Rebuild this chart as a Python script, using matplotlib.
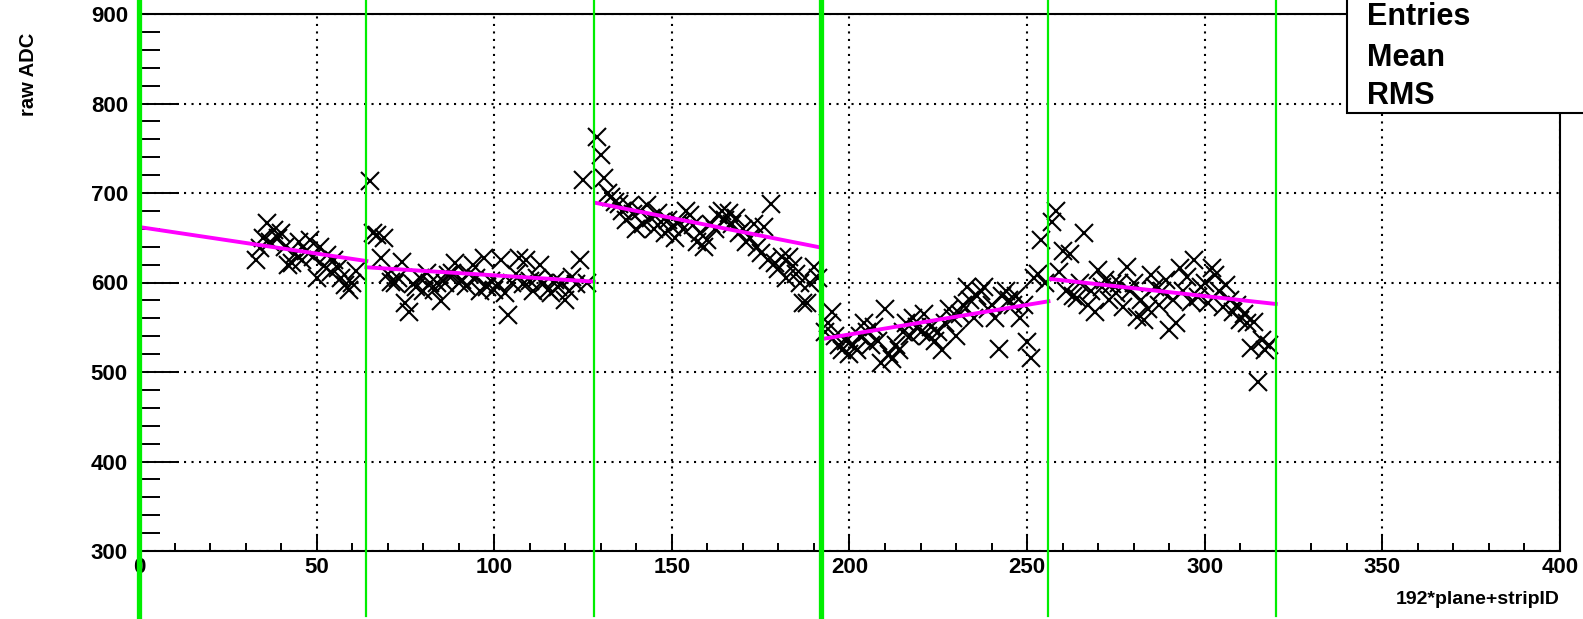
import numpy as np
import matplotlib
matplotlib.use("Agg")
import matplotlib.pyplot as plt
from matplotlib.patches import Rectangle
from matplotlib.ticker import MultipleLocator

plt.rcParams["font.family"] = ["Liberation Sans", "DejaVu Sans"]
plt.rcParams["font.weight"] = "bold"

# raw ADC per strip, one list per plane (first strip id given separately)
seg1_start = 33
seg1_adc = [625, 638, 650, 666, 645, 659, 650, 655, 640, 620, 622, 632, 645, 625, 635,
            647, 628, 605, 640, 618, 631, 612, 625, 616, 605, 597, 592, 599, 613]
seg2_start = 65
seg2_adc = [713, 655, 653, 627, 650, 610, 601, 599, 605, 623, 577, 567, 598, 595, 605,
            590, 611, 600, 592, 599, 579, 600, 608, 611, 622, 600, 603, 596, 610, 620,
            605, 590, 627, 595, 602, 592, 598, 625, 588, 564, 600, 610, 627, 598, 625,
            602, 590, 605, 620, 600, 592, 588, 603, 595, 599, 580, 590, 606, 598, 625,
            714, 600]
seg3_start = 129
seg3_adc = [763, 742, 717, 700, 695, 690, 688, 680, 670, 685, 676, 660, 680, 665, 687,
            672, 660, 678, 668, 655, 670, 662, 650, 668, 660, 680, 675, 664, 645, 655,
            640, 648, 665, 660, 675, 680, 670, 678, 665, 672, 655, 660, 645, 650, 665,
            640, 633, 662, 625, 688, 622, 615, 628, 605, 629, 618, 610, 600, 577, 577,
            599, 617, 605]
seg4_start = 193
seg4_adc = [545, 555, 567, 540, 530, 525, 535, 520, 530, 525, 540, 555, 545, 530, 550,
            535, 510, 570, 520, 515, 530, 525, 545, 555, 540, 560, 550, 545, 565, 540,
            550, 535, 545, 525, 555, 570, 560, 540, 565, 575, 595, 580, 560, 585, 590,
            595, 570, 575, 560, 526, 585, 590, 580, 575, 585, 560, 575, 533, 516, 605,
            610, 647, 600]
seg5_start = 257
seg5_adc = [668, 680, 612, 635, 590, 632, 585, 583, 600, 655, 575, 590, 567, 614, 595,
            603, 580, 598, 588, 600, 573, 617, 590, 600, 561, 580, 558, 570, 608, 595,
            575, 590, 603, 547, 580, 555, 616, 590, 606, 578, 625, 584, 595, 599, 577,
            616, 608, 590, 573, 597, 580, 567, 575, 558, 565, 555, 527, 556, 489, 536,
            525, 530]

seg_starts = [seg1_start, seg2_start, seg3_start, seg4_start, seg5_start]
seg_adcs = [seg1_adc, seg2_adc, seg3_adc, seg4_adc, seg5_adc]

# linear fits per plane: x range and fitted value at both ends
fit_x0 = [0, 64, 128.5, 192.5, 256.5]
fit_x1 = [64, 128, 192, 256, 320]
fit_y0 = [662, 617, 689, 537, 604]
fit_y1 = [624, 601, 639, 579, 576]

# plane boundaries
boundaries = [0, 64, 128, 192, 256, 320]
boundary_widths = [3.8, 1.6, 1.6, 3.8, 1.6, 1.6]

W, H = 1583, 619
fig = plt.figure(figsize=(W / 100, H / 100), dpi=100)
ax = fig.add_axes([139 / W, 1 - 551 / H, 1421 / W, 537 / H])

ax.set_xlim(0, 400)
ax.set_ylim(300, 900)

ax.grid(True, which="major", color="black", linestyle=(0, (1, 2.6)), linewidth=1.5)

for start, adc in zip(seg_starts, seg_adcs):
    xs = np.arange(start, start + len(adc))
    ax.plot(xs, adc, linestyle="none", marker="x", markersize=13.5,
            markeredgewidth=1.5, color="black", zorder=3)

for x0, x1, y0, y1 in zip(fit_x0, fit_x1, fit_y0, fit_y1):
    ax.plot([x0, x1], [y0, y1], color="#ff00ff", linewidth=2.8, zorder=4)

for xb, lw in zip(boundaries, boundary_widths):
    ax.axvline(xb, ymin=-0.121, ymax=1.03, color="#00ee00", linewidth=lw,
               clip_on=False, zorder=5)

ax.xaxis.set_major_locator(MultipleLocator(50))
ax.xaxis.set_minor_locator(MultipleLocator(10))
ax.yaxis.set_major_locator(MultipleLocator(100))
ax.yaxis.set_minor_locator(MultipleLocator(20))
ax.tick_params(axis="both", which="both", direction="in", top=False, right=False,
               width=1.4, labelsize=16)
ax.tick_params(axis="x", which="major", length=11, pad=4)
ax.tick_params(axis="x", which="minor", length=5.5)
ax.tick_params(axis="y", which="major", length=29, pad=8)
ax.tick_params(axis="y", which="minor", length=15)
for lab in ax.get_xticklabels() + ax.get_yticklabels():
    lab.set_fontweight("bold")
for sp in ax.spines.values():
    sp.set_linewidth(1.5)

fig.text(1560 / W, 1 - 599 / H, "192*plane+stripID", ha="right", va="center",
         fontsize=14, fontweight="bold")
fig.text(28 / W, 1 - 33 / H, "raw ADC", rotation=90, ha="center", va="top",
         fontsize=14.5, fontweight="bold")

# stat box in the top right corner, cut by the figure edge
box = Rectangle((1347 / W, 1 - 113 / H), 0.3, 0.3, transform=fig.transFigure,
                facecolor="white", edgecolor="black", linewidth=1.5, zorder=10,
                clip_on=False)
fig.patches.append(box)
for label, ybase in zip(["Entries", "Mean", "RMS"], [25, 66, 104]):
    fig.text(1367 / W, 1 - ybase / H, label, ha="left", va="baseline",
             fontsize=22, fontweight="bold", zorder=11)

fig.savefig("out.png", dpi=100)
